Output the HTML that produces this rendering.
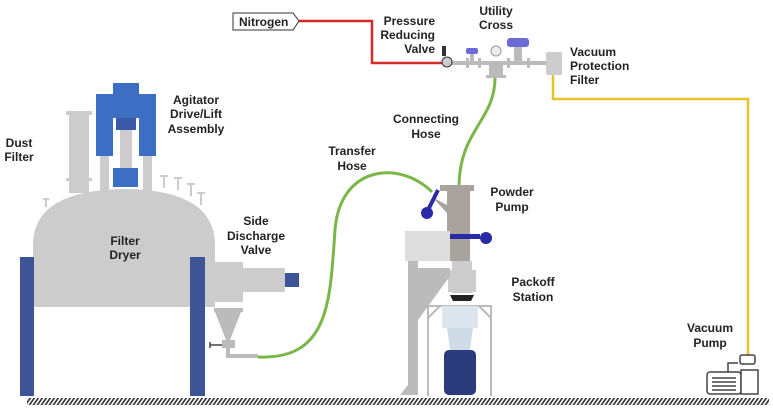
<!DOCTYPE html>
<html><head><style>
html,body{margin:0;padding:0;background:#fff;width:773px;height:412px;overflow:hidden}
svg{display:block}
text{font-family:"Liberation Sans",sans-serif;font-weight:bold;font-size:12px;fill:#222}
</style></head><body>
<svg width="773" height="412" viewBox="0 0 773 412" xmlns="http://www.w3.org/2000/svg">
<defs>
<pattern id="h" width="4" height="8" patternUnits="userSpaceOnUse" patternTransform="skewX(-35)">
<rect width="2" height="8" fill="#333"/>
</pattern>
</defs>
<rect x="27" y="398" width="742" height="7" fill="url(#h)"/>

<rect x="66" y="111" width="26" height="4" fill="#ccc"/>
<rect x="69" y="115" width="20" height="78" fill="#ccc"/>
<rect x="66" y="178" width="26" height="3" fill="#ccc"/>
<rect x="100" y="150" width="9" height="45" fill="#ccc"/>
<rect x="143" y="150" width="9" height="45" fill="#ccc"/>
<rect x="120" y="130" width="12" height="40" fill="#ccc"/>
<rect x="113" y="83" width="26" height="35" fill="#3c6fc4"/>
<rect x="96" y="94" width="17" height="62" fill="#3c6fc4"/>
<rect x="139" y="94" width="17" height="62" fill="#3c6fc4"/>
<rect x="116" y="118" width="20" height="12" fill="#3a5aa8"/>
<rect x="113" y="168" width="25" height="19" fill="#3c6fc4"/>
<path d="M33 307 L33 245 Q33 190 125 189 Q215 190 215 245 L215 307 Z" fill="#ccc"/>
<g stroke="#ccc" stroke-width="2" fill="none">
<path d="M46 207v-8M43 199h6M164 188v-12M160 176h8M178 190v-12M174 178h8M191 196v-12M187 184h8M201 205v-12M197 193h8"/>
</g>
<rect x="20" y="257" width="14" height="139" fill="#3d5596"/>
<rect x="190" y="257" width="15" height="139" fill="#3d5596"/>
<rect x="205" y="262" width="38" height="40" fill="#ccc"/>
<rect x="243" y="268" width="42" height="24" fill="#ccc"/>
<rect x="285" y="273" width="14" height="14" fill="#3d5596"/>
<rect x="214" y="308" width="29" height="4" fill="#bbb"/>
<path d="M215 312 L241 312 L230 340 L226 340 Z" fill="#bbb"/>
<rect x="222" y="340" width="13" height="8" fill="#bbb"/>
<path d="M210 345h12M210 342v6" stroke="#444" stroke-width="1.5"/>
<path d="M228 348 V356 H258" stroke="#bbb" stroke-width="4" fill="none"/>
<path d="M258 357 C330 360 330 300 335 230 C340 165 400 160 432 192" stroke="#7ab648" stroke-width="3" fill="none"/>
<path d="M495 78 C495 120 460 130 459 185" stroke="#7ab648" stroke-width="3" fill="none"/>
<rect x="440" y="185" width="34" height="6" fill="#a8a39c"/>
<rect x="447" y="191" width="23" height="70" fill="#a8a39c"/>
<path d="M432 197 L447 205 L447 213 Z" fill="#a8a39c"/>
<path d="M438 190 L428 210" stroke="#2a2aa8" stroke-width="4"/>
<circle cx="427" cy="213" r="6" fill="#2a2aa8"/>
<rect x="405" y="231" width="45" height="30" fill="#ddd"/>
<rect x="450" y="234" width="30" height="5" fill="#2a2aa8"/>
<circle cx="486" cy="238" r="6" fill="#2a2aa8"/>
<rect x="452" y="261" width="20" height="32" fill="#ccc"/>
<rect x="448" y="270" width="28" height="22" fill="#ccc"/>
<path d="M450 295 h24 l-3 6 h-18 Z" fill="#222"/>
<rect x="408" y="261" width="10" height="134" fill="#bbb"/>
<path d="M418 268 H450 V276 L418 320 Z" fill="#bbb"/>
<path d="M400 395 L408 385 V395 Z" fill="#bbb"/>
<path d="M428 396 V306 H491 V396" stroke="#bbb" stroke-width="2" fill="none"/>
<path d="M428 318 L440 306 M491 318 L479 306" stroke="#bbb" stroke-width="2"/>
<rect x="442" y="306" width="36" height="22" fill="#dde6ee"/>
<path d="M447 328 H473 L470 350 H450 Z" fill="#cfdbe6"/>
<rect x="444" y="350" width="32" height="45" rx="5" fill="#2b3a7a"/>
<path d="M233 13 H293 L299 21 L293 30 H233 Z" fill="#fff" stroke="#333" stroke-width="1"/>
<text x="239" y="26" font-size="11">Nitrogen</text>
<path d="M299 21 H372 V63 H443" stroke="#d42a2a" stroke-width="2.5" fill="none"/>
<rect x="443" y="61" width="105" height="4" fill="#bbb"/>
<rect x="466" y="58" width="3" height="10" fill="#bbb"/><rect x="478" y="58" width="3" height="10" fill="#bbb"/>
<rect x="507" y="58" width="3" height="10" fill="#bbb"/><rect x="527" y="58" width="3" height="10" fill="#bbb"/>
<rect x="442" y="46" width="4" height="10" fill="#333"/>
<circle cx="447" cy="62" r="5" fill="#ccc" stroke="#333"/>
<rect x="466" y="48" width="12" height="6" rx="2" fill="#6b6bd8"/>
<rect x="470" y="54" width="4" height="8" fill="#bbb"/>
<circle cx="496" cy="51" r="5" fill="#eee" stroke="#999"/>
<rect x="489" y="65" width="14" height="10" fill="#bbb"/>
<rect x="486" y="75" width="20" height="3" fill="#bbb"/>
<rect x="507" y="38" width="22" height="9" rx="3" fill="#6b6bd8"/>
<rect x="514" y="47" width="8" height="14" fill="#bbb"/>
<rect x="546" y="52" width="16" height="23" rx="2" fill="#ccc"/>
<path d="M553 75 V99 H748 V357" stroke="#e8c12e" stroke-width="2.5" fill="none"/>
<g stroke="#444" stroke-width="1.5" fill="#fff">
<rect x="707" y="372" width="34" height="22" rx="3"/>
<rect x="741" y="370" width="17" height="24"/>
<rect x="740" y="355" width="15" height="9" rx="2"/>
<path d="M738 363 H728 V372" fill="none"/>
<path d="M712 378h24M712 382h24M712 386h24M712 390h24" fill="none"/>
</g>
<g text-anchor="middle">
<text x="19" y="147">Dust</text><text x="19" y="161">Filter</text>
<text x="196" y="104">Agitator</text><text x="196" y="118">Drive/Lift</text><text x="196" y="133">Assembly</text>
<text x="125" y="245">Filter</text><text x="125" y="259">Dryer</text>
<text x="256" y="225">Side</text><text x="256" y="240">Discharge</text><text x="256" y="254">Valve</text>
<text x="352" y="155">Transfer</text><text x="352" y="170">Hose</text>
<text x="426" y="123">Connecting</text><text x="426" y="138">Hose</text>
<text x="512" y="196">Powder</text><text x="512" y="211">Pump</text>
<text x="533" y="286">Packoff</text><text x="533" y="301">Station</text>
<text x="496" y="15">Utility</text><text x="496" y="29">Cross</text>
<text x="710" y="332">Vacuum</text><text x="710" y="347">Pump</text>
</g>
<g text-anchor="end">
<text x="435" y="25">Pressure</text><text x="435" y="39">Reducing</text><text x="435" y="53">Valve</text>
</g>
<text x="570" y="56">Vacuum</text><text x="570" y="70">Protection</text><text x="570" y="84">Filter</text>
</svg>
</body></html>
